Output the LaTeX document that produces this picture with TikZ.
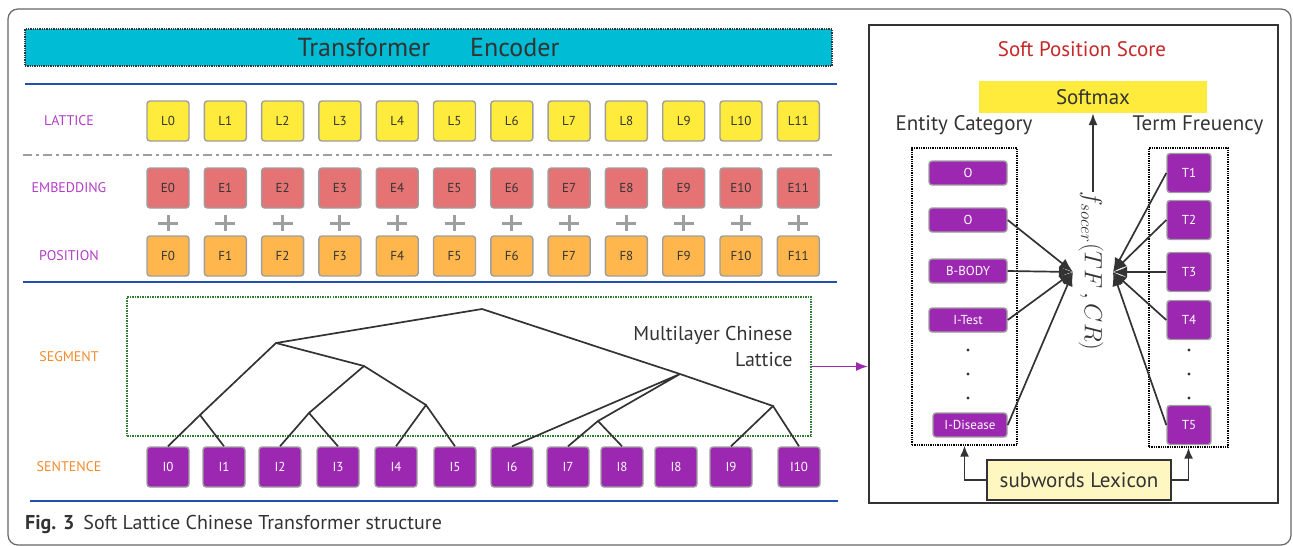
\documentclass[tikz,border=0pt]{standalone}
\usepackage{fontspec}
\setmainfont{PT Sans}
\usetikzlibrary{arrows.meta}

\definecolor{inkgray}{HTML}{333333}
\definecolor{cellgray}{HTML}{9E9E9E}
\definecolor{enccyan}{HTML}{00BCD4}
\definecolor{lattyellow}{HTML}{FFEB3B}
\definecolor{embred}{HTML}{E57373}
\definecolor{posorange}{HTML}{FFB74D}
\definecolor{sentpurple}{HTML}{9C27B0}
\definecolor{labpurple}{HTML}{B23DC6}
\definecolor{laborange}{HTML}{F58A2A}
\definecolor{ruleblue}{HTML}{2250B0}
\definecolor{seggreen}{HTML}{2E7D32}
\definecolor{titlered}{HTML}{C62828}
\definecolor{lexyellow}{HTML}{FFF7C2}

\begin{document}
\begin{tikzpicture}[x=1pt,y=1pt]
\tikzstyle{every node}+=[inner sep=0pt]
\tikzstyle{cell}=[draw=cellgray, line width=1.4pt, rounded corners=3pt, minimum width=42pt, minimum height=40pt, text=inkgray, font=\fontsize{13}{15}\selectfont]
\tikzstyle{lattcell}=[cell, fill=lattyellow]
\tikzstyle{embcell}=[cell, fill=embred]
\tikzstyle{poscell}=[cell, fill=posorange]
\tikzstyle{sentcell}=[cell, fill=sentpurple, text=white]
\tikzstyle{tagcell}=[sentcell, minimum width=78pt, minimum height=24pt]
\tikzstyle{rowlab}=[font=\fontsize{14}{16}\selectfont]
\tikzstyle{head}=[font=\fontsize{21}{24}\selectfont, text=inkgray]
\tikzstyle{link}=[inkgray, line width=1.7pt]
\tikzstyle{conv}=[inkgray, line width=1.7pt, -{Latex[length=14pt,width=11pt]}]
\tikzstyle{blue rule}=[ruleblue, line width=2pt]

\useasboundingbox (0,0) rectangle (1293,-546);
\draw [gray!80!black, line width=1.2pt, rounded corners=10pt] (8,-9) rectangle (1291,-545);

\node [draw=inkgray, densely dotted, line width=1.3pt, fill=enccyan, minimum width=807pt, minimum height=37pt, text=inkgray, font=\fontsize{26}{30}\selectfont] (enc) at (428.5,-47.5) {Transformer\hspace{40pt}Encoder};
\draw [blue rule] (25,-84) -- (837,-84);
\draw [blue rule] (23,-282) -- (837,-282);
\draw [blue rule] (30,-501) -- (838,-501);
\draw [cellgray, line width=1.5pt, dash pattern=on 9pt off 4pt on 3pt off 4pt] (23,-155) -- (835,-155);

\node [rowlab, text=labpurple] (lattlab) at (69,-121) {LATTICE};
\node [rowlab, text=labpurple] (emblab) at (69,-188) {EMBEDDING};
\node [rowlab, text=labpurple] (poslab) at (69,-256) {POSITION};
\node [rowlab, text=laborange] (seglab) at (69,-357) {SEGMENT};
\node [rowlab, text=laborange] (sentlab) at (69,-467) {SENTENCE};

\foreach \i in {0,...,11} {
  \node [lattcell] (l\i) at (168+57.3*\i,-121) {L\i};
  \node [embcell] (e\i) at (168+57.3*\i,-188) {E\i};
  \node [poscell] (p\i) at (168+57.3*\i,-256) {F\i};
  \draw [cellgray, line width=3pt] (158+57.3*\i,-223) -- (178+57.3*\i,-223);
  \draw [cellgray, line width=3pt] (168+57.3*\i,-215) -- (168+57.3*\i,-231);
}

\node [draw=seggreen, densely dotted, line width=1.5pt, minimum width=684pt, minimum height=139pt] (seg) at (469,-366.5) {};
\node [font=\fontsize{20}{26}\selectfont, text=inkgray, align=right] (multi) at (713,-346) {Multilayer Chinese\\Lattice\hspace{33pt}};

\foreach \x/\t [count=\i from 0] in {168/I0, 224/I1, 280/I2, 338/I3, 396/I4, 455/I5, 512/I6, 568/I7, 622/I8, 676/I8, 731/I9, 799/I10}
  \node [sentcell] (s\i) at (\x,-467) {\t};

\coordinate (rt) at (482,-309);
\coordinate (na) at (276,-343);
\coordinate (nb) at (364,-366);
\coordinate (nc) at (200,-415);
\coordinate (nd) at (309,-413);
\coordinate (ne) at (426,-405);
\coordinate (nf) at (680,-374);
\coordinate (ng) at (773,-406);
\coordinate (nh) at (598,-421);
\draw [link] (na) -- (rt) -- (nf);
\draw [link] (nc) -- (na) -- (nb);
\draw [link] (nd) -- (nb) -- (ne);
\draw [link] (s0.north) -- (nc) -- (s1.north);
\draw [link] (s2.north) -- (nd) -- (s3.north);
\draw [link] (s4.north) -- (ne) -- (s5.north);
\draw [link] (s6.north) -- (nf) -- (nh);
\draw [link] (nf) -- (ng);
\draw [link] (s7.north) -- (nh) -- (s8.north);
\draw [link] (s10.north) -- (ng) -- (s11.north);

\node [draw=inkgray, line width=2pt, minimum width=409pt, minimum height=478pt] (panel) at (1073.5,-264) {};
\draw [sentpurple, line width=1.6pt, -{Latex[length=12pt,width=9pt]}] (seg.east) -- (seg.east -| panel.west);

\node [font=\fontsize{21}{24}\selectfont, text=titlered] (title) at (1082,-49) {Soft Position Score};
\node [head, fill=lattyellow, minimum width=228pt, minimum height=32pt] (sm) at (1093,-97) {Softmax};
\node [head] (catlab) at (964,-125) {Entity Category};
\node [head] (tflab) at (1198,-125) {Term Freuency};

\node [draw=black, densely dotted, line width=1.3pt, minimum width=105pt, minimum height=297pt] (cat) at (964.5,-296.5) {};
\node [draw=black, densely dotted, line width=1.3pt, minimum width=79pt, minimum height=299pt] (tf) at (1188.5,-297.5) {};

\node [tagcell] (c1) at (968,-173) {O};
\node [tagcell] (c2) at (968,-220) {O};
\node [tagcell] (c3) at (968,-271) {B-BODY};
\node [tagcell] (c4) at (968,-320) {I-Test};
\node [tagcell, minimum width=74pt] (c5) at (970,-425) {I-Disease};

\node [sentcell, minimum width=44pt, minimum height=39pt] (t1) at (1189,-173) {T1};
\node [sentcell, minimum width=44pt, minimum height=39pt] (t2) at (1189,-220) {T2};
\node [sentcell, minimum width=44pt, minimum height=39pt] (t3) at (1189,-272) {T3};
\node [sentcell, minimum width=44pt, minimum height=39pt] (t4) at (1189,-320) {T4};
\node [sentcell, minimum width=44pt, minimum height=39pt] (t5) at (1189,-425) {T5};

\foreach \y in {350,374,398} {
  \fill [inkgray] (968,-\y) circle (1.6pt);
  \fill [inkgray] (1189,-\y) circle (1.6pt);
}

\coordinate (catin) at (1073,-272);
\coordinate (tfin) at (1113,-272);
\draw [conv] (c2.east) -- (catin);
\draw [conv] (c3.east) -- (catin);
\draw [conv] (c4.east) -- (catin);
\draw [conv] (c5.east) -- (catin);
\draw [conv] (t1.west) -- (tfin);
\draw [conv] (t2.west) -- (tfin);
\draw [conv] (t3.west) -- (tfin);
\draw [conv] (t4.west) -- (tfin);
\draw [conv] (t5.west) -- (tfin);

\node [rotate=-90, text=inkgray, font=\fontsize{24}{28}\selectfont] (score) at (1091,-271) {$f_{socer}(TF\,,CR)$};
\coordinate (scoretop) at (1093,-192);
\draw [conv, -{Latex[length=12pt,width=9pt]}] (scoretop) -- (sm.south);

\node [draw=inkgray, line width=1.6pt, fill=lexyellow, minimum width=184pt, minimum height=40pt, font=\fontsize{21}{24}\selectfont, text=inkgray] (lex) at (1079,-480) {subwords Lexicon};
\draw [inkgray, line width=1.6pt, -{Latex[length=11pt,width=9pt]}] (lex.west) -| (cat.south);
\draw [inkgray, line width=1.6pt, -{Latex[length=11pt,width=9pt]}] (lex.east) -| (tf.south);

\node [anchor=west, text=inkgray, font=\fontsize{20}{24}\selectfont] (cap) at (25,-524) {\textbf{Fig. 3}\hspace{9pt}Soft Lattice Chinese Transformer structure};
\end{tikzpicture}
\end{document}
